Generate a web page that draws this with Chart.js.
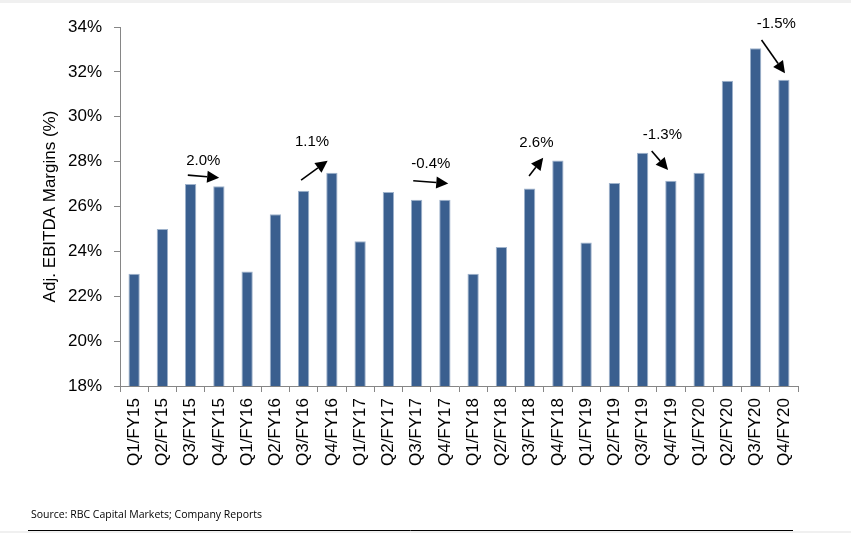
<!DOCTYPE html>
<html>
<head>
<meta charset="utf-8">
<script src="https://cdn.jsdelivr.net/npm/chart.js@4/dist/chart.umd.min.js"></script>
<style>
  html, body { margin: 0; padding: 0; background: #fff; }
  #wrap { position: relative; width: 851px; height: 533px; }
  #topband { position: absolute; left: 0; top: 0; width: 851px; height: 3px; background: #f0f0f0; }
</style>
</head>
<body>
<div id="wrap">
  <canvas id="margins" width="851" height="533"></canvas>
  <div id="topband"></div>
</div>
<script>
var quarters = ["Q1/FY15", "Q2/FY15", "Q3/FY15", "Q4/FY15",
                "Q1/FY16", "Q2/FY16", "Q3/FY16", "Q4/FY16",
                "Q1/FY17", "Q2/FY17", "Q3/FY17", "Q4/FY17",
                "Q1/FY18", "Q2/FY18", "Q3/FY18", "Q4/FY18",
                "Q1/FY19", "Q2/FY19", "Q3/FY19", "Q4/FY19",
                "Q1/FY20", "Q2/FY20", "Q3/FY20", "Q4/FY20"];

var margins = [23.0, 25.0, 27.0, 26.9,
               23.1, 25.65, 26.7, 27.5,
               24.45, 26.65, 26.3, 26.3,
               23.0, 24.2, 26.8, 28.05,
               24.4, 27.05, 28.4, 27.15,
               27.5, 31.6, 33.05, 31.65];

// year-over-year change callouts (label, arrow from/to in category index + value units)
var noteLabels = ["2.0%", "1.1%", "-0.4%", "2.6%", "-1.3%", "-1.5%"];
var noteFrom   = [[1.9, 27.4], [5.91, 27.18], [9.88, 27.15], [13.98, 27.36], [18.32, 28.47], [22.21, 33.42]];
var noteTo     = [[3.01, 27.28], [6.85, 28.04], [11.12, 27.03], [14.48, 28.17], [18.9, 27.63], [23.04, 31.94]];
var noteText   = [[2.45, 28.04], [6.3, 28.89], [10.5, 27.92], [14.24, 28.84], [18.7, 29.21], [22.73, 34.12]];

var axisGray = '#868686';

function catX(xScale, v) {
    var step = (xScale.right - xScale.left) / quarters.length;
    return xScale.left + step * (v + 0.5);
}

var notesPlugin = {
    id: 'notes',
    afterDatasetsDraw: function (chart) {
        var ctx = chart.ctx;
        var xs = chart.scales.x;
        var ys = chart.scales.y;
        ctx.save();
        for (var i = 0; i < noteLabels.length; i++) {
            var x1 = catX(xs, noteFrom[i][0]), y1 = ys.getPixelForValue(noteFrom[i][1]);
            var x2 = catX(xs, noteTo[i][0]), y2 = ys.getPixelForValue(noteTo[i][1]);
            var ang = Math.atan2(y2 - y1, x2 - x1);
            var head = 12, hw = 6;
            var bx = x2 - head * Math.cos(ang), by = y2 - head * Math.sin(ang);
            ctx.strokeStyle = '#000';
            ctx.fillStyle = '#000';
            ctx.lineWidth = 1.6;
            ctx.beginPath();
            ctx.moveTo(x1, y1);
            ctx.lineTo(bx, by);
            ctx.stroke();
            ctx.beginPath();
            ctx.moveTo(x2, y2);
            ctx.lineTo(bx + hw * Math.sin(ang), by - hw * Math.cos(ang));
            ctx.lineTo(bx - hw * Math.sin(ang), by + hw * Math.cos(ang));
            ctx.closePath();
            ctx.fill();

            ctx.font = '15px "Liberation Sans", Arial, sans-serif';
            ctx.textAlign = 'center';
            ctx.textBaseline = 'middle';
            ctx.fillText(noteLabels[i], catX(xs, noteText[i][0]), ys.getPixelForValue(noteText[i][1]));
        }

        // source line and footer rule
        ctx.font = '10.5px "Open Sans", "Liberation Sans", sans-serif';
        ctx.textAlign = 'left';
        ctx.fillStyle = '#000';
        ctx.fillText('Source: RBC Capital Markets; Company Reports', 31, 515);
        ctx.strokeStyle = '#000';
        ctx.lineWidth = 1;
        ctx.beginPath();
        ctx.moveTo(28, 530.5);
        ctx.lineTo(793, 530.5);
        ctx.stroke();
        ctx.fillStyle = '#f0f0f0';
        ctx.fillRect(0, 531, 851, 2);
        ctx.restore();
    }
};

function makeChart() {
    var canvas = document.getElementById("margins");

    var marginData = {
        label: "Adj. EBITDA Margins",
        data: margins,
        backgroundColor: '#3a5f8f',
        borderColor: '#9fb3cc',
        borderWidth: 1,
        barPercentage: 0.4,
        categoryPercentage: 1.0
    };

    var chartOptions = {
        responsive: false,
        animation: false,
        layout: { padding: { left: 36, right: 53, top: 27, bottom: 0 } },
        plugins: {
            legend: { display: false },
            tooltip: { enabled: false }
        },
        scales: {
            x: {
                offset: true,
                grid: {
                    display: true,
                    offset: true,
                    drawOnChartArea: false,
                    color: axisGray,
                    tickLength: 6
                },
                border: { color: axisGray, width: 1 },
                ticks: {
                    autoSkip: false,
                    maxRotation: 90,
                    minRotation: 90,
                    color: '#000',
                    padding: 6,
                    font: { family: '"Liberation Sans", Arial, sans-serif', size: 17 }
                },
                afterFit: function (scale) { scale.height = 147; }
            },
            y: {
                min: 18,
                max: 34,
                grid: {
                    display: true,
                    drawOnChartArea: false,
                    color: axisGray,
                    tickLength: 6
                },
                border: { color: axisGray, width: 1 },
                ticks: {
                    stepSize: 2,
                    color: '#000',
                    padding: 12,
                    font: { family: '"Liberation Sans", Arial, sans-serif', size: 17 },
                    callback: function (v) { return v + '%'; }
                },
                title: {
                    display: true,
                    text: 'Adj. EBITDA Margins (%)',
                    color: '#000',
                    font: { family: '"Liberation Sans", Arial, sans-serif', size: 17 },
                    padding: { top: 4, bottom: 0 }
                },
                afterFit: function (scale) { scale.width = 84; }
            }
        }
    };

    new Chart(canvas, {
        type: 'bar',
        data: { labels: quarters, datasets: [marginData] },
        options: chartOptions,
        plugins: [notesPlugin]
    });
}

document.addEventListener('DOMContentLoaded', makeChart);
</script>
</body>
</html>
